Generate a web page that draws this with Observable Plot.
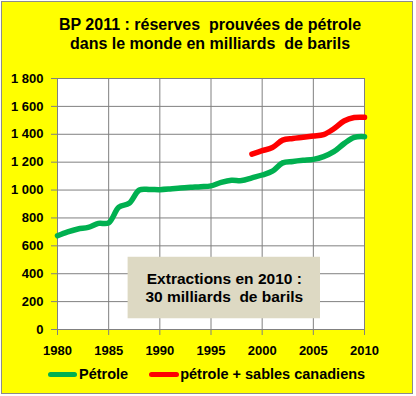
<!DOCTYPE html>
<html>
<head>
<meta charset="utf-8">
<script src="https://cdn.jsdelivr.net/npm/d3@7"></script>
<script src="https://cdn.jsdelivr.net/npm/@observablehq/plot@0.6"></script>
<style>
  html, body { margin: 0; padding: 0; background: #ffffff; }
  #card {
    position: absolute; left: 1px; top: 1px;
    width: 410px; height: 391px;
    border: 1px solid #8c8c8c;
    background: #ffff00;
    font-family: "Liberation Sans", Arial, sans-serif;
    overflow: hidden;
  }
  #title {
    position: absolute; left: 6px; right: 0; top: 13px;
    text-align: center; font-weight: bold; font-size: 16px; line-height: 19px; color: #000;
  }
  #chart { position: absolute; left: 0; top: 60px; }
  #legend {
    position: absolute; left: 46px; top: 362px; height: 20px;
    display: flex; align-items: center;
    font-weight: bold; font-size: 14.5px; color: #000; white-space: pre;
  }
  .sw { display: inline-block; height: 5px; border-radius: 3px; }
</style>
</head>
<body>
<div id="card">
  <div id="title"></div>
  <div id="chart"></div>
  <div id="legend"></div>
</div>
<script>
// ---- data ----
const titleLines = ["BP 2011 : réserves\u00a0 prouvées de pétrole", "dans le monde en milliards\u00a0 de barils"];
const years = [1980, 1981, 1982, 1983, 1984, 1985, 1986, 1987, 1988, 1989,
               1990, 1991, 1992, 1993, 1994, 1995, 1996, 1997, 1998, 1999,
               2000, 2001, 2002, 2003, 2004, 2005, 2006, 2007, 2008, 2009, 2010];
const petrole = [672, 700, 721, 732, 761, 765, 877, 905, 1000, 1004,
                 1003, 1008, 1015, 1020, 1024, 1030, 1055, 1070, 1068, 1088,
                 1108, 1135, 1195, 1205, 1213, 1220, 1240, 1275, 1333, 1378, 1383];
const sablesYears = [1999, 2000, 2001, 2002, 2003, 2004, 2005, 2006, 2007, 2008, 2009, 2010];
const petroleSables = [1258, 1282, 1305, 1358, 1370, 1378, 1387, 1398, 1440, 1495, 1520, 1522];
const seriesNames = ["Pétrole", "pétrole + sables canadiens"];
const seriesColors = ["#00b050", "#ff0000"];
const xTicks = [1980, 1985, 1990, 1995, 2000, 2005, 2010];
const yTicks = [0, 200, 400, 600, 800, 1000, 1200, 1400, 1600, 1800];
const annotationLines = ["Extractions en 2010 :", "30 milliards\u00a0 de barils"];

// ---- build ----
document.getElementById("title").innerHTML = titleLines.join("<br>");

const dataA = years.map((y, i) => ({year: y, value: petrole[i]}));
const dataB = sablesYears.map((y, i) => ({year: y, value: petroleSables[i]}));
const fmt = d3.formatLocale({decimal: ",", thousands: "\u00a0", grouping: [3], currency: ["", ""]}).format(",");

const chart = Plot.plot({
  width: 410, height: 300,
  marginLeft: 55, marginRight: 48, marginTop: 16, marginBottom: 33,
  style: {background: "transparent", fontFamily: "Liberation Sans, Arial, sans-serif", fontSize: "13px", fontWeight: "bold", color: "#000"},
  x: {domain: [1980, 2010]},
  y: {domain: [0, 1800]},
  marks: [
    Plot.frame({fill: "white", stroke: "none"}),
    Plot.gridX(xTicks, {stroke: "#808080", strokeOpacity: 1}),
    Plot.gridY(yTicks, {stroke: "#808080", strokeOpacity: 1}),
    Plot.frame({stroke: "#808080"}),
    Plot.rect([annotationLines], {x1: 1986.9, x2: 2005.7, y1: 77, y2: 518, fill: "#ddd9c3"}),
    Plot.text([annotationLines.join("\n")], {x: 1996.3, y: 301, text: d => d, fontSize: 15.5, fontWeight: "bold", lineHeight: 1.12, fill: "#000"}),
    Plot.line(dataA, {x: "year", y: "value", stroke: seriesColors[0], strokeWidth: 5.5, curve: "catmull-rom", strokeLinecap: "round", strokeLinejoin: "round"}),
    Plot.line(dataB, {x: "year", y: "value", stroke: seriesColors[1], strokeWidth: 5.5, curve: "catmull-rom", strokeLinecap: "round", strokeLinejoin: "round"}),
    Plot.axisX(xTicks, {tickFormat: d => String(d), tickSize: 6, tickPadding: 10, stroke: "#808080", fill: "#000", label: null}),
    Plot.axisY(yTicks, {tickFormat: fmt, tickSize: 6, tickPadding: 8, stroke: "#808080", fill: "#000", label: null})
  ]
});
document.getElementById("chart").appendChild(chart);

const legend = document.getElementById("legend");
const widths = [29, 30];
const gaps = [2, 1];
const after = [21, 0];
seriesNames.forEach((name, i) => {
  const sw = document.createElement("span");
  sw.className = "sw";
  sw.style.width = widths[i] + "px";
  sw.style.background = seriesColors[i];
  sw.style.marginRight = gaps[i] + "px";
  const t = document.createElement("span");
  t.textContent = name;
  t.style.marginRight = after[i] + "px";
  legend.appendChild(sw);
  legend.appendChild(t);
});
</script>
</body>
</html>
